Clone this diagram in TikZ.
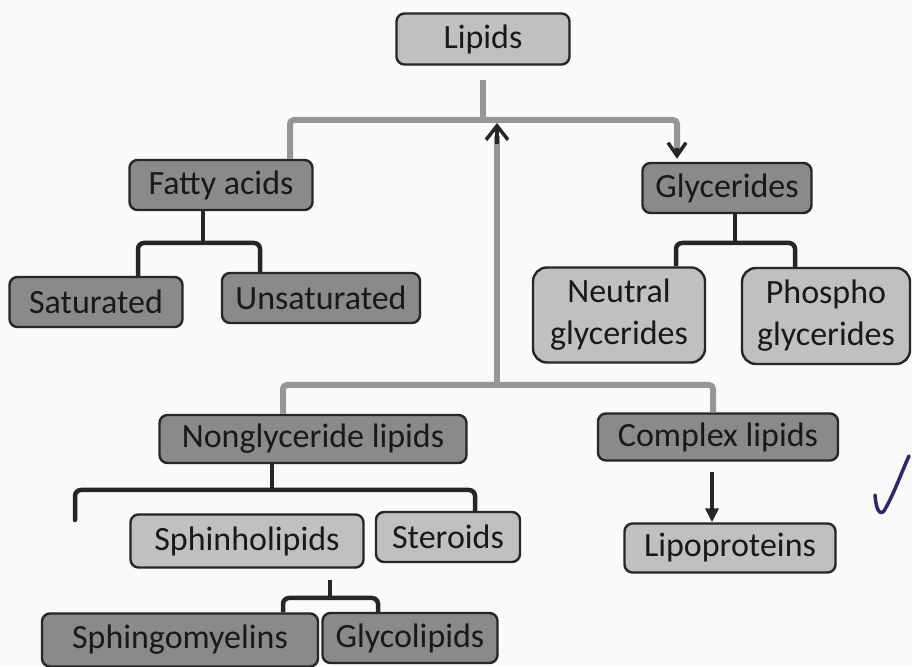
\documentclass[tikz,border=0pt]{standalone}
\usepackage{fontspec}
\setmainfont{Carlito}
\usepackage{xcolor}
\usetikzlibrary{arrows.meta, positioning, calc}

\definecolor{boxdark}{RGB}{138,138,138}
\definecolor{boxlight}{RGB}{192,192,192}
\definecolor{linegray}{RGB}{150,150,150}
\definecolor{penblue}{RGB}{45,40,110}

\tikzset{
    lipbox/.style={draw=black!85, line width=2.4pt, rounded corners=8pt, inner sep=0pt,
        font=\fontsize{34}{42}\selectfont, text=black!90, align=center},
    darkbox/.style={lipbox, fill=boxdark},
    lightbox/.style={lipbox, fill=boxlight},
    grayline/.style={draw=linegray, line width=6pt, rounded corners=4pt},
    brace/.style={draw=black!85, line width=4.5pt, rounded corners=6pt},
}

\begin{document}
\begin{tikzpicture}[x=1pt, y=1pt]
				\useasboundingbox[fill=gray!4] (0,0) rectangle (912,666);
				% boxes
				\node[lightbox, minimum width=173pt, minimum height=51pt] (lipids) at (483,627) {Lipids};
				\node[darkbox, minimum width=183pt, minimum height=50pt] (fatty) at (221,481) {Fatty acids};
				\node[darkbox, minimum width=169pt, minimum height=50pt] (glyc) at (727,478) {Glycerides};
				\node[darkbox, minimum width=173pt, minimum height=50pt] (sat) at (96,364) {Saturated};
				\node[darkbox, minimum width=198pt, minimum height=50pt] (unsat) at (321,368) {Unsaturated};
				\node[lightbox, minimum width=172pt, minimum height=95pt, rounded corners=14pt] (neutral) at (619,351) {Neutral\\glycerides};
				\node[lightbox, minimum width=168pt, minimum height=96pt, rounded corners=14pt] (phospho) at (826,350) {Phospho\\glycerides};
				\node[darkbox, minimum width=307pt, minimum height=48pt] (nongly) at (313,227) {Nonglyceride lipids};
				\node[darkbox, minimum width=240pt, minimum height=47pt] (complex) at (718,229) {Complex lipids};
				\node[lightbox, minimum width=233pt, minimum height=53pt] (sphin) at (247,125) {Sphinholipids};
				\node[lightbox, minimum width=144pt, minimum height=50pt] (ster) at (448,129) {Steroids};
				\node[lightbox, minimum width=211pt, minimum height=49pt] (lipo) at (730,118) {Lipoproteins};
				\node[darkbox, minimum width=276pt, minimum height=53pt] (sphingo) at (180,26) {Sphingomyelins};
				\node[darkbox, minimum width=175pt, minimum height=50pt] (glyco) at (410,28) {Glycolipids};

				% gray connectors
				\coordinate (topjoin) at (483,546);
				\coordinate (lowjoin) at (497,281);
				\draw[grayline] ([yshift=-14pt]lipids.south) -- (topjoin);
				\draw[grayline] ([xshift=69pt]fatty.north) |- (topjoin) -| (677,516);
				\draw[-{Straight Barb[length=13pt, width=18pt, line width=3.5pt]}, black!85, line width=3.5pt] (677,518) -- ([xshift=-50pt, yshift=3pt]glyc.north);
				\draw[grayline] ([xshift=-30pt]nongly.north) |- (lowjoin) -| ([xshift=-5pt]complex.north);
				\draw[linegray, line width=6pt] (lowjoin) -- (497,530);
				\draw[-{Straight Barb[length=14pt, width=22pt, line width=3.5pt]}, black!85, line width=3.5pt] (497,522) -- (497,543);

				% black brackets
				\draw[brace] ([xshift=42pt]sat.north) |- (203,423) -| ([xshift=-61pt]unsat.north);
				\draw[brace] (fatty.south -| 203,0) -- (203,423);
				\draw[brace] ([xshift=57pt]neutral.north) |- (735,423) -| ([xshift=-31pt]phospho.north);
				\draw[brace] (glyc.south -| 735,0) -- (735,423);
				\draw[brace, line cap=round] (75,146) |- (272,176) -| ([xshift=27pt]ster.north);
				\draw[brace] (nongly.south -| 272,0) -- (272,176);
				\draw[brace] ([xshift=103pt]sphingo.north) |- (330,68) -| ([xshift=-32pt]glyco.north);
				\draw[brace] (330,86) -- (330,68);
				\draw[-{Triangle[length=14pt, width=13pt]}, black!85, line width=4.5pt] ([yshift=-10pt]complex.south -| 712,0) -- (lipo.north -| 712,0);

				% pen tick
				\draw[penblue, line width=3.5pt, line cap=round] (875,171) .. controls (876,158) and (879,150) .. (884,155) .. controls (894,172) and (902,195) .. (909,210);
			\end{tikzpicture}
\end{document}
